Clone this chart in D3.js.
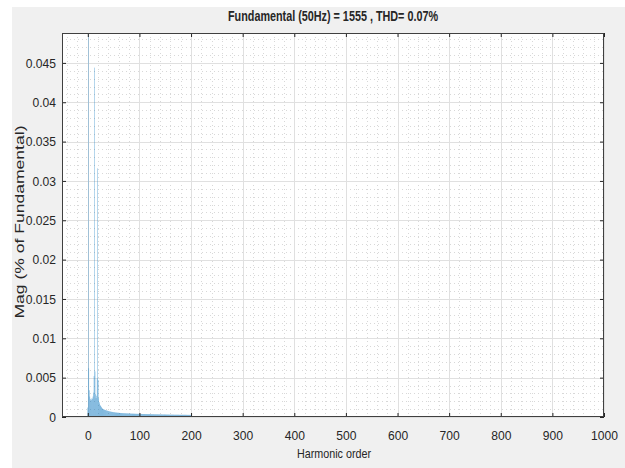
<!DOCTYPE html>
<html>
<head>
<meta charset="utf-8">
<script src="https://cdn.jsdelivr.net/npm/d3@7"></script>
<style>
  body { margin: 0; background: #fff; }
  text { font-family: "Liberation Sans", Arial, sans-serif; fill: #262626; }
</style>
</head>
<body>
<div id="chart"></div>
<script>
// Magnitude (% of fundamental) for harmonic order 0, 1, 2, ... 200
const magnitude = [
  0.0012, 0.0488, 0.0062, 0.0034, 0.0026, 0.0023, 0.0021, 0.0022, 0.0024, 0.0023,
  0.0026, 0.0031, 0.0052, 0.0444, 0.0058, 0.0029, 0.0024, 0.0027, 0.0049, 0.0316,
  0.0047, 0.0024, 0.0019, 0.0017, 0.0015, 0.0014, 0.0013, 0.0012, 0.0011, 0.00105,
  0.00100, 0.00097, 0.00094, 0.00091, 0.00088, 0.00086, 0.00084, 0.00082, 0.00080, 0.00078,
  0.00076, 0.00074, 0.00072, 0.00070, 0.00069, 0.00067, 0.00066, 0.00065, 0.00063, 0.00062,
  0.00061, 0.00060, 0.00059, 0.00058, 0.00057, 0.00056, 0.00056, 0.00055, 0.00054, 0.00054,
  0.00053, 0.00052, 0.00052, 0.00051, 0.00051, 0.00050, 0.00050, 0.00049, 0.00049, 0.00048,
  0.00048, 0.00048, 0.00047, 0.00047, 0.00047, 0.00046, 0.00046, 0.00046, 0.00045, 0.00045,
  0.00045, 0.00044, 0.00044, 0.00044, 0.00043, 0.00043, 0.00043, 0.00042, 0.00042, 0.00042,
  0.00042, 0.00041, 0.00041, 0.00041, 0.00041, 0.00040, 0.00040, 0.00040, 0.00040, 0.00040,
  0.00040, 0.00039, 0.00039, 0.00039, 0.00039, 0.00039, 0.00038, 0.00038, 0.00038, 0.00038,
  0.00038, 0.00037, 0.00037, 0.00037, 0.00037, 0.00037, 0.00036, 0.00036, 0.00036, 0.00036,
  0.00036, 0.00036, 0.00035, 0.00035, 0.00035, 0.00035, 0.00035, 0.00035, 0.00035, 0.00034,
  0.00034, 0.00034, 0.00034, 0.00034, 0.00034, 0.00034, 0.00034, 0.00033, 0.00033, 0.00033,
  0.00033, 0.00033, 0.00033, 0.00033, 0.00032, 0.00032, 0.00032, 0.00032, 0.00032, 0.00032,
  0.00032, 0.00031, 0.00031, 0.00031, 0.00031, 0.00031, 0.00031, 0.00031, 0.00030, 0.00030,
  0.00030, 0.00030, 0.00030, 0.00030, 0.00030, 0.00030, 0.00030, 0.00029, 0.00029, 0.00029,
  0.00029, 0.00029, 0.00029, 0.00029, 0.00029, 0.00029, 0.00029, 0.00028, 0.00028, 0.00028,
  0.00028, 0.00028, 0.00028, 0.00028, 0.00028, 0.00028, 0.00028, 0.00028, 0.00028, 0.00028,
  0.00028, 0.00028, 0.00027, 0.00027, 0.00027, 0.00027, 0.00027, 0.00027, 0.00027, 0.00027,
  0.00027
];

const xTicks = [0, 100, 200, 300, 400, 500, 600, 700, 800, 900, 1000];
const yTicks = [0, 0.005, 0.01, 0.015, 0.02, 0.025, 0.03, 0.035, 0.04, 0.045];
const xDomain = [-50, 1000];
const yDomain = [0, 0.0488];

const titleText = "Fundamental (50Hz) = 1555 , THD= 0.07%";
const xLabel = "Harmonic order";
const yLabel = "Mag (% of Fundamental)";

const W = 625, H = 468;
const plot = { left: 62, right: 604, top: 33, bottom: 417 };

const svg = d3.select("#chart").append("svg")
  .attr("width", W)
  .attr("height", H);

// squeeze text horizontally (the source picture is narrowed)
function condense(sel, k) {
  sel.each(function() {
    const w = this.getComputedTextLength();
    d3.select(this).attr("textLength", w * k).attr("lengthAdjust", "spacingAndGlyphs");
  });
}

// figure background (grey panel)
svg.append("rect")
  .attr("x", 12).attr("y", 7)
  .attr("width", W - 12).attr("height", H - 7)
  .attr("fill", "#f0f0f0");

// axes area
svg.append("rect")
  .attr("x", plot.left).attr("y", plot.top)
  .attr("width", plot.right - plot.left).attr("height", plot.bottom - plot.top)
  .attr("fill", "#fff");

const x = d3.scaleLinear().domain(xDomain).range([plot.left, plot.right]);
const y = d3.scaleLinear().domain(yDomain).range([plot.bottom, plot.top]);

// minor grid (dotted), 5 subdivisions between majors
const xMinor = d3.range(-40, 1000, 20).filter(v => v % 100 !== 0);
const yMinor = d3.range(0.001, yDomain[1], 0.001).filter(v => Math.abs(v / 0.005 - Math.round(v / 0.005)) > 1e-6);

const grid = svg.append("g");
grid.selectAll(".xminor").data(xMinor).enter().append("line")
  .attr("x1", d => Math.round(x(d)) + 0.5).attr("x2", d => Math.round(x(d)) + 0.5)
  .attr("y1", plot.top).attr("y2", plot.bottom)
  .attr("stroke", "#d8d8d8").attr("stroke-dasharray", "1,3");
grid.selectAll(".yminor").data(yMinor).enter().append("line")
  .attr("y1", d => Math.round(y(d)) + 0.5).attr("y2", d => Math.round(y(d)) + 0.5)
  .attr("x1", plot.left).attr("x2", plot.right)
  .attr("stroke", "#d8d8d8").attr("stroke-dasharray", "1,3");

// major grid
grid.selectAll(".xmajor").data(xTicks).enter().append("line")
  .attr("x1", d => Math.round(x(d)) + 0.5).attr("x2", d => Math.round(x(d)) + 0.5)
  .attr("y1", plot.top).attr("y2", plot.bottom)
  .attr("stroke", "#e0e0e0");
grid.selectAll(".ymajor").data(yTicks).enter().append("line")
  .attr("y1", d => Math.round(y(d)) + 0.5).attr("y2", d => Math.round(y(d)) + 0.5)
  .attr("x1", plot.left).attr("x2", plot.right)
  .attr("stroke", "#e0e0e0");

// bars
const barW = x(0.8) - x(0);
svg.append("g").selectAll("rect")
  .data(magnitude)
  .enter().append("rect")
  .attr("x", (d, i) => x(i) - barW / 2)
  .attr("width", barW)
  .attr("y", d => y(d))
  .attr("height", d => plot.bottom - y(d))
  .attr("fill", "#0072bd")
  .attr("fill-opacity", 0.7);

// axes with inward ticks
const fmtY = d => d === 0 ? "0" : String(+d.toFixed(3));

const axB = svg.append("g")
  .attr("transform", `translate(0,${plot.bottom})`)
  .call(d3.axisBottom(x).tickValues(xTicks).tickSize(-4).tickPadding(14).tickFormat(d3.format("d")));
const axT = svg.append("g")
  .attr("transform", `translate(0,${plot.top})`)
  .call(d3.axisTop(x).tickValues(xTicks).tickSize(-4).tickFormat(""));
const axL = svg.append("g")
  .attr("transform", `translate(${plot.left},0)`)
  .call(d3.axisLeft(y).tickValues(yTicks).tickSize(-4).tickPadding(6).tickFormat(fmtY));
const axR = svg.append("g")
  .attr("transform", `translate(${plot.right},0)`)
  .call(d3.axisRight(y).tickValues(yTicks).tickSize(-4).tickFormat(""));

[axB, axT, axL, axR].forEach(g => {
  g.select(".domain").remove();
  g.selectAll(".tick line").attr("stroke", "#262626");
  g.selectAll(".tick text")
    .attr("font-size", 13)
    .style("font-family", "'Liberation Sans', Arial, sans-serif")
    .attr("fill", "#262626")
    .call(condense, 0.93);
});

// box
svg.append("rect")
  .attr("x", plot.left + 0.5).attr("y", plot.top + 0.5)
  .attr("width", plot.right - plot.left - 1).attr("height", plot.bottom - plot.top - 1)
  .attr("fill", "none").attr("stroke", "#404040");

// title and labels
svg.append("text")
  .attr("x", 333).attr("y", 21)
  .attr("text-anchor", "middle")
  .attr("font-size", 14).attr("font-weight", "bold")
  .text(titleText)
  .attr("textLength", 210).attr("lengthAdjust", "spacingAndGlyphs");

svg.append("text")
  .attr("x", 334).attr("y", 458)
  .attr("text-anchor", "middle")
  .attr("font-size", 13)
  .text(xLabel)
  .attr("textLength", 74).attr("lengthAdjust", "spacingAndGlyphs");

svg.append("text")
  .attr("transform", "translate(24,222) rotate(-90)")
  .attr("text-anchor", "middle")
  .attr("font-size", 13)
  .text(yLabel)
  .attr("textLength", 193).attr("lengthAdjust", "spacingAndGlyphs");
</script>
</body>
</html>
